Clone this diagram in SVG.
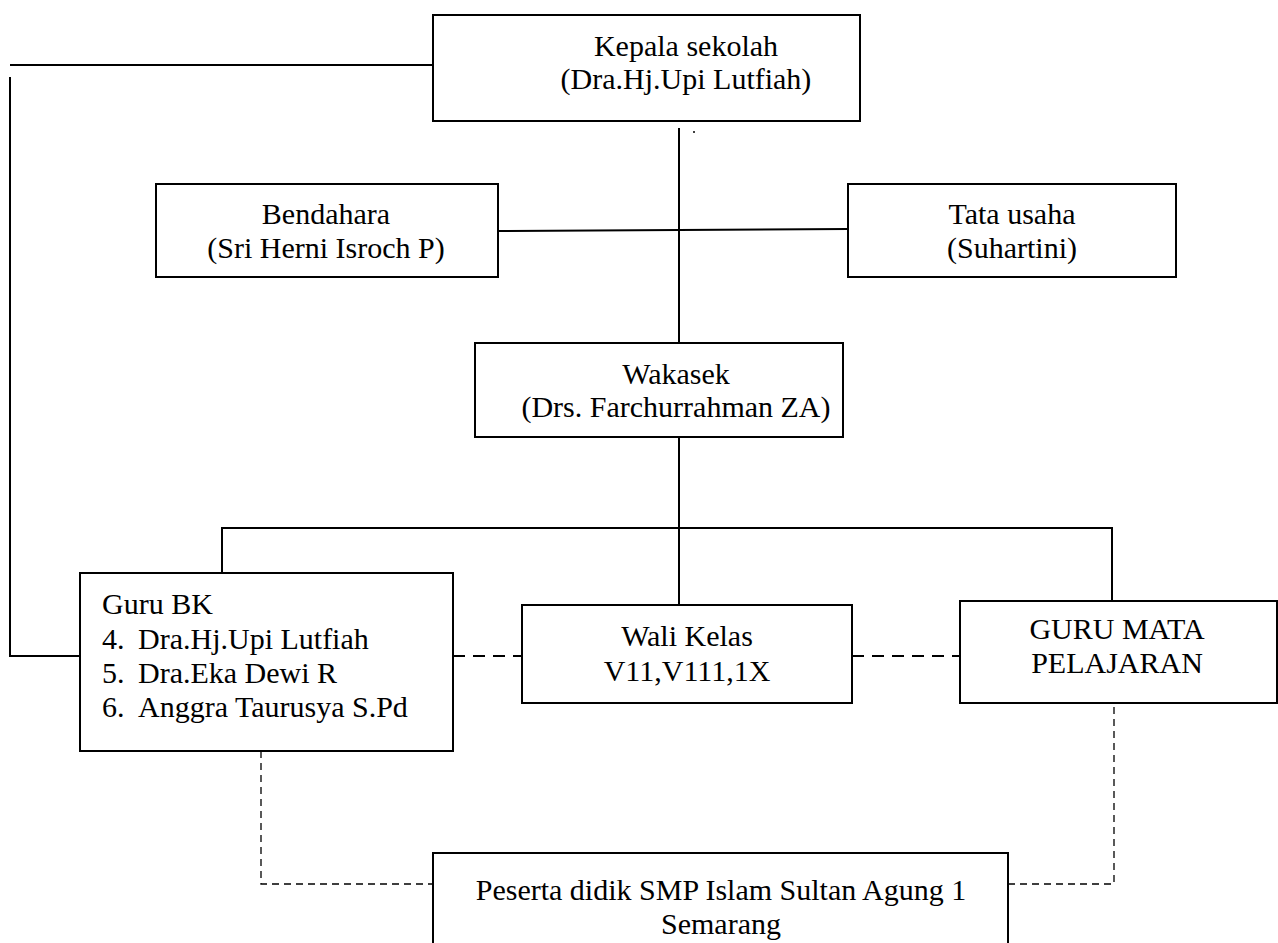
<svg xmlns="http://www.w3.org/2000/svg" width="1278" height="943" viewBox="0 0 1278 943">
<style>
.box{fill:#fff;stroke:#000;stroke-width:2}
.ln{stroke:#000;stroke-width:2;fill:none}
.d1{stroke:#000;stroke-width:2;fill:none;stroke-dasharray:12 8}
.d2{stroke:#000;stroke-width:1.3;fill:none;stroke-dasharray:7 5}
text{font-family:"Liberation Serif","Times New Roman",serif;font-size:30px;fill:#000}
.c{text-anchor:middle}
</style>
<rect width="1278" height="943" fill="#fff"/>
<g id="connectors">
<path class="ln" d="M10 65H433"/>
<path class="ln" d="M10 77V656H80"/>
<path class="ln" d="M679 128V343"/>
<path class="ln" d="M498 231L848 229"/>
<path class="ln" d="M679 437V605"/>
<path class="ln" d="M222 573V528H1112V601"/>
<path class="d1" d="M453 656H522"/>
<path class="d1" d="M852 656H960"/>
<path class="d2" d="M261 751V884H433"/>
<path class="d2" d="M1008 884H1114V697"/>
<circle cx="694" cy="132" r="1" fill="#000"/>
</g>
<g id="kepala">
<rect class="box" x="433" y="15" width="427" height="106"/>
<text class="c" x="686" y="56">Kepala sekolah</text>
<text class="c" x="686" y="89">(Dra.Hj.Upi Lutfiah)</text>
</g>
<g id="bendahara">
<rect class="box" x="156" y="184" width="342" height="93"/>
<text class="c" x="326" y="224">Bendahara</text>
<text class="c" x="326" y="258">(Sri Herni Isroch P)</text>
</g>
<g id="tatausaha">
<rect class="box" x="848" y="184" width="328" height="93"/>
<text class="c" x="1012" y="224">Tata usaha</text>
<text class="c" x="1012" y="258">(Suhartini)</text>
</g>
<g id="wakasek">
<rect class="box" x="475" y="343" width="368" height="94"/>
<text class="c" x="676" y="384">Wakasek</text>
<text class="c" x="676" y="417">(Drs. Farchurrahman ZA)</text>
</g>
<g id="gurubk">
<rect class="box" x="80" y="573" width="373" height="178"/>
<text x="102" y="614">Guru BK</text>
<text x="102" y="649">4.</text><text x="138" y="649">Dra.Hj.Upi Lutfiah</text>
<text x="102" y="683">5.</text><text x="138" y="683">Dra.Eka Dewi R</text>
<text x="102" y="717">6.</text><text x="138" y="717">Anggra Taurusya S.Pd</text>
</g>
<g id="walikelas">
<rect class="box" x="522" y="605" width="330" height="98"/>
<text class="c" x="687" y="646">Wali Kelas</text>
<text class="c" x="687" y="681">V11,V111,1X</text>
</g>
<g id="gurumapel">
<rect class="box" x="960" y="601" width="317" height="102"/>
<text class="c" x="1117" y="639">GURU MATA</text>
<text class="c" x="1117" y="673">PELAJARAN</text>
</g>
<g id="peserta">
<rect class="box" x="433" y="853" width="575" height="100"/>
<text class="c" x="721" y="900">Peserta didik SMP Islam Sultan Agung 1</text>
<text class="c" x="721" y="934">Semarang</text>
</g>
</svg>
